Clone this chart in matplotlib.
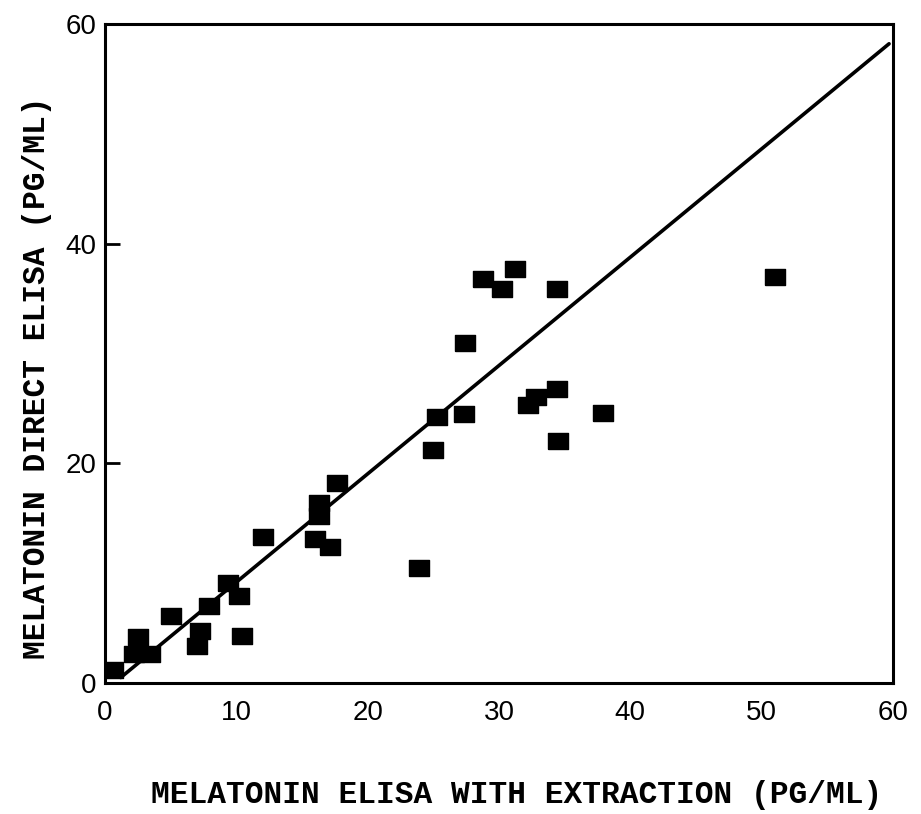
import matplotlib
matplotlib.use("Agg")
import matplotlib.pyplot as plt
from matplotlib import font_manager

# Data
x_extraction = [0.6, 2.5, 2.2, 3.4, 5.0, 7.0, 7.2, 7.9, 9.4, 10.2, 10.4, 12.0,
                16.3, 16.3, 16.0, 17.1, 17.7, 23.9, 25.0, 25.3, 27.3, 27.4,
                28.8, 30.2, 31.2, 32.2, 32.8, 34.4, 34.4, 34.5, 37.9, 51.0]
y_direct = [1.2, 4.2, 2.6, 2.6, 6.1, 3.4, 4.7, 7.0, 9.1, 7.9, 4.3, 13.3,
            16.4, 15.2, 13.1, 12.4, 18.2, 10.5, 21.2, 24.2, 24.5, 31.0,
            36.8, 35.9, 37.7, 25.3, 26.0, 35.9, 26.8, 22.0, 24.6, 37.0]
fit_x = [1.2, 59.7]
fit_y = [0.5, 58.2]
x_ticks = [0, 10, 20, 30, 40, 50, 60]
y_ticks = [0, 20, 40, 60]
x_label = "MELATONIN ELISA WITH EXTRACTION (PG/ML)"
y_label = "MELATONIN DIRECT ELISA (PG/ML)"

names = {f.name for f in font_manager.fontManager.ttflist}
tick_font = "Liberation Sans Narrow" if "Liberation Sans Narrow" in names else "Liberation Sans"
label_font = "Liberation Mono"

W, H = 921, 814
fig = plt.figure(figsize=(W / 100, H / 100), dpi=100)
left, right, bottom, top = 105, 893, 683, 24
ax = fig.add_axes([left / W, 1 - bottom / H, (right - left) / W, (bottom - top) / H])

rect = [(-1, -0.78), (1, -0.78), (1, 0.78), (-1, 0.78), (-1, -0.78)]
ax.plot(fit_x, fit_y, color="black", lw=2.6, solid_capstyle="round", zorder=2)
ax.plot(x_extraction, y_direct, linestyle="none", marker=rect, ms=15,
        color="black", mec="black", zorder=3)

ax.set_xlim(0, 60)
ax.set_ylim(0, 60)
ax.set_xticks(x_ticks)
ax.set_yticks(y_ticks)
ax.set_xticklabels([str(t) for t in x_ticks], fontfamily=tick_font, fontsize=20)
ax.set_yticklabels([str(t) for t in y_ticks], fontfamily=tick_font, fontsize=20)
ax.tick_params(axis="x", length=0, pad=12)
ax.tick_params(axis="y", direction="in", length=11, width=2, pad=6)
for s in ax.spines.values():
    s.set_linewidth(2.2)

fig.text(517 / W, 1 - 795 / H, x_label, fontfamily=label_font, fontweight="bold",
         fontsize=22.5, ha="center", va="center")
fig.text(37 / W, 1 - 378 / H, y_label, fontfamily=label_font, fontweight="bold",
         fontsize=22.5, ha="center", va="center", rotation=90)

fig.savefig("out.png", dpi=100)
